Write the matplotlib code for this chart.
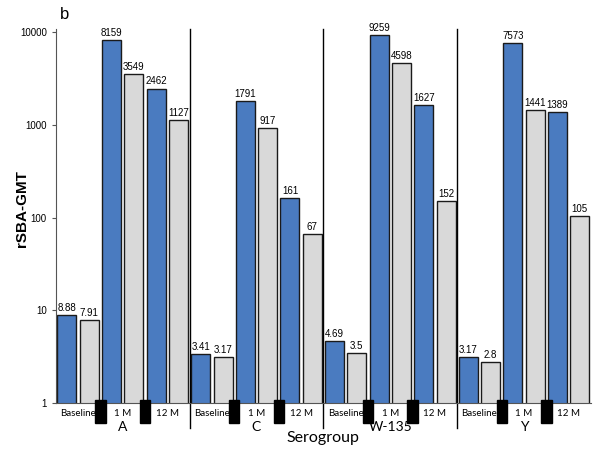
import matplotlib
matplotlib.use("Agg")
import matplotlib.pyplot as plt
import numpy as np

plt.rcParams['font.family'] = ['Liberation Sans', 'DejaVu Sans']

groups = ['A', 'C', 'W-135', 'Y']
times = ['Baseline', '1 M', '12 M']
# blue / grey pairs, per serogroup, per timepoint
blue = [8.88, 8159, 2462, 3.41, 1791, 161, 4.69, 9259, 1627, 3.17, 7573, 1389]
grey = [7.91, 3549, 1127, 3.17, 917, 67, 3.5, 4598, 152, 2.8, 1441, 105]

fig = plt.figure(figsize=(6, 4.53), dpi=100)
ax = fig.add_axes([0.093, 0.110, 0.892, 0.826])

xb = np.arange(len(blue)) * 2
xg = xb + 1
b1 = ax.bar(xb, blue, width=0.85, color='#4a7bc0', edgecolor='#1a1a1a', lw=1)
b2 = ax.bar(xg, grey, width=0.85, color='#d9d9d9', edgecolor='#1a1a1a', lw=1)
ax.bar_label(b1, labels=[f'{v:g}' for v in blue], padding=1.5, fontsize=7)
ax.bar_label(b2, labels=[f'{v:g}' for v in grey], padding=1.5, fontsize=7)

ax.set_yscale('log')
ax.set_ylim(1, 10800)
ax.set_xlim(-0.5, 23.5)
ax.set_yticks([1, 10, 100, 1000, 10000])
ax.set_yticklabels(['1', '10', '100', '1000', '10000'])
ax.minorticks_off()
ax.tick_params(axis='y', labelsize=7, length=3, color='#555555')

# timepoint labels
ax.set_xticks(np.arange(12) * 2 + 0.5)
ax.set_xticklabels(times * 4, fontfamily='Lato', fontsize=7)
ax.tick_params(axis='x', length=0, pad=4)

for s in ['top', 'right']:
    ax.spines[s].set_visible(False)
ax.spines['left'].set_color('#555555')
ax.spines['bottom'].set_color('#555555')

tr = ax.get_xaxis_transform()
# serogroup separators
for k in range(1, 4):
    ax.plot([k * 6 - 0.5] * 2, [-0.067, 1.0], color='black', lw=1,
            transform=tr, clip_on=False)
# black markers between timepoints
for k in range(4):
    for j in [1.5, 3.5]:
        ax.add_patch(plt.Rectangle((k * 6 + j - 0.23, -0.054), 0.46, 0.062,
                                   color='black', transform=tr, clip_on=False, zorder=5))
# group names
for k, g in enumerate(groups):
    ax.text(k * 6 + 2.5, -0.065, g, transform=tr, ha='center', va='center',
            fontfamily='Lato', fontsize=10)

ax.text(11.5, -0.093, 'Serogroup', transform=tr, ha='center', va='center',
        fontfamily='Lato', fontsize=11.5)
ax.set_ylabel('rSBA-GMT', fontsize=11, fontweight='bold')
ax.yaxis.set_label_coords(-0.05, 0.52)
fig.text(0.108, 0.967, 'b', fontsize=12, ha='center', va='center')

fig.savefig('out.png', dpi=100)
